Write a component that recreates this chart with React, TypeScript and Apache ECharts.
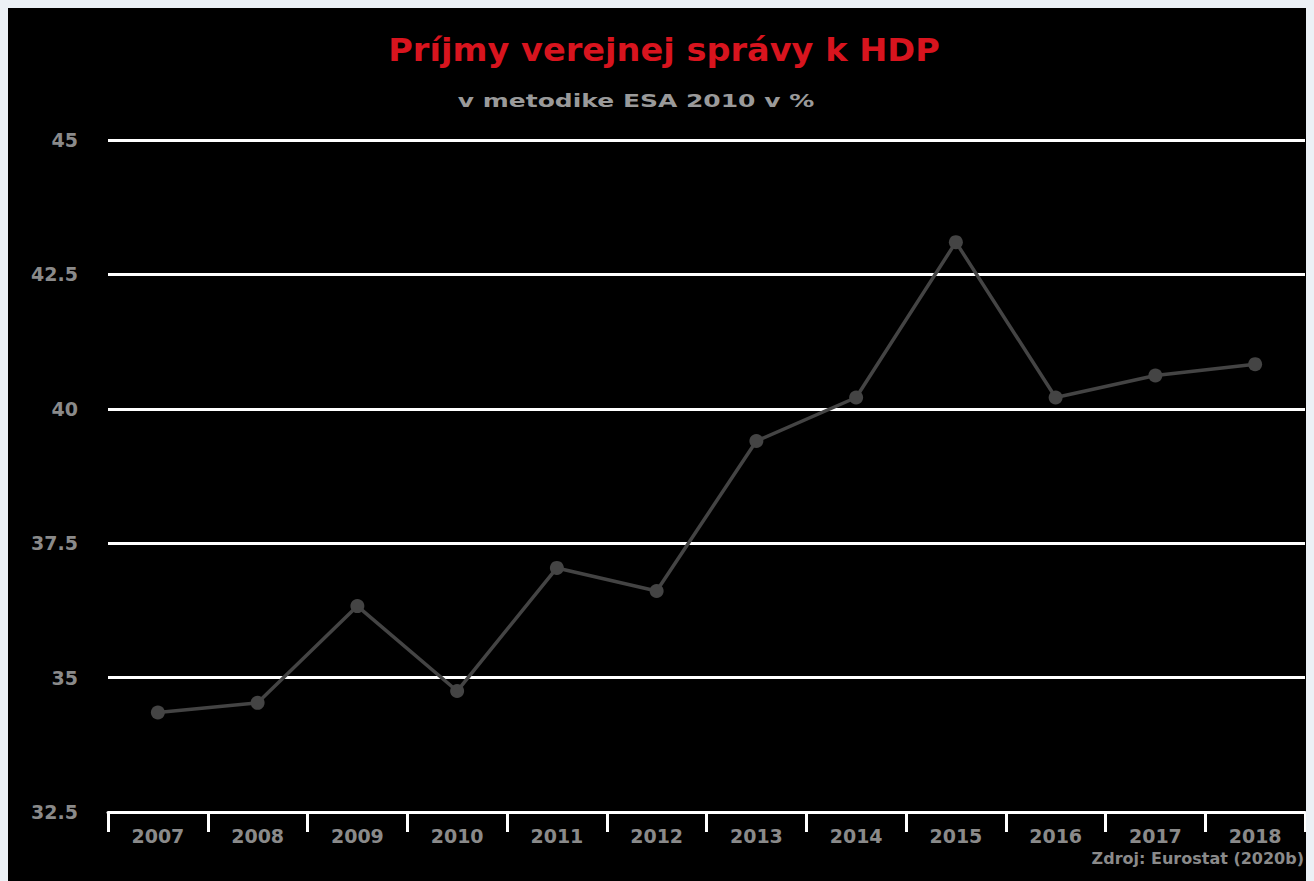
import React, { useEffect, useRef } from "react";
import * as echarts from "echarts";

const years = ["2007", "2008", "2009", "2010", "2011", "2012", "2013", "2014", "2015", "2016", "2017", "2018"];
const revenues = [34.35, 34.53, 36.33, 34.75, 37.04, 36.61, 39.4, 40.21, 43.1, 40.21, 40.62, 40.83];
const yTicks = { min: 32.5, max: 45, interval: 2.5 };
const titleText = "Príjmy verejnej správy k HDP";
const subtitleText = "v metodike ESA 2010 v %";
const sourceText = "Zdroj: Eurostat (2020b)";

const FONT = "DejaVu Sans, Verdana, sans-serif";

export default function App() {
  const ref = useRef<HTMLDivElement>(null);
  useEffect(() => {
    document.body.style.background = "#ecf1f6";
    const chart = echarts.init(ref.current!, undefined, { renderer: "svg" });
    chart.setOption({
      animation: false,
      backgroundColor: "#000000",
      graphic: [
        {
          type: "text",
          x: 656,
          y: 42,
          scaleX: 1.05,
          style: {
            text: titleText,
            fill: "#d8141e",
            fontSize: 32,
            fontWeight: "bold",
            fontFamily: FONT,
            align: "center",
            verticalAlign: "middle",
          },
        },
        {
          type: "text",
          x: 628,
          y: 93,
          scaleX: 1.47,
          style: {
            text: subtitleText,
            fill: "#9a9a9a",
            fontSize: 17,
            fontWeight: "bold",
            fontFamily: FONT,
            align: "center",
            verticalAlign: "middle",
          },
        },
        {
          type: "text",
          x: 1296,
          y: 850,
          style: {
            text: sourceText,
            fill: "#8a8a8a",
            fontSize: 16,
            fontWeight: "bold",
            fontFamily: FONT,
            align: "right",
            verticalAlign: "middle",
          },
        },
      ],
      grid: { left: 100, right: 9, top: 132, bottom: 69 },
      xAxis: {
        type: "category",
        data: years,
        boundaryGap: true,
        axisLine: { show: true, lineStyle: { color: "#ffffff", width: 3 } },
        axisTick: { show: true, length: 20, lineStyle: { color: "#ffffff", width: 3 } },
        axisLabel: { color: "#8a8a8a", fontSize: 19, fontWeight: "bold", margin: 14, fontFamily: FONT },
        splitLine: { show: false },
      },
      yAxis: {
        type: "value",
        min: yTicks.min,
        max: yTicks.max,
        interval: yTicks.interval,
        axisLine: { show: false },
        axisTick: { show: false },
        axisLabel: { color: "#8a8a8a", fontSize: 19, fontWeight: "bold", margin: 30, fontFamily: FONT },
        splitLine: { show: true, lineStyle: { color: "#ffffff", width: 3 } },
      },
      series: [
        {
          type: "line",
          data: revenues,
          symbol: "circle",
          symbolSize: 14,
          lineStyle: { color: "#444444", width: 3.5 },
          itemStyle: { color: "#444444" },
        },
      ],
    });
    return () => chart.dispose();
  }, []);
  return <div ref={ref} style={{ width: 1306, height: 873 }} />;
}
